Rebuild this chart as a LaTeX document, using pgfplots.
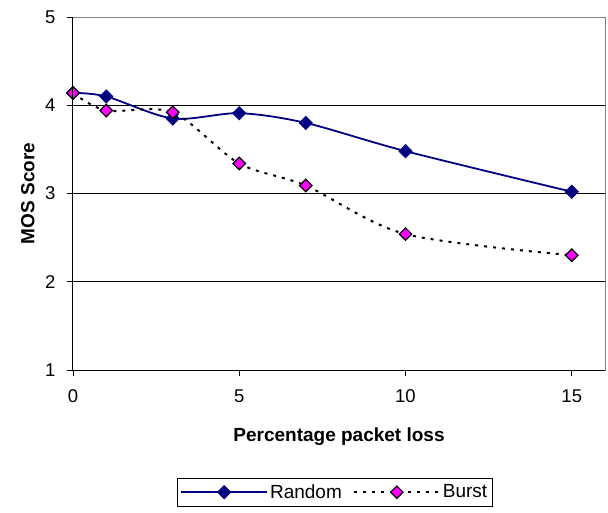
\documentclass[border=0pt]{standalone}
\usepackage{pgfplots}
\pgfplotsset{compat=1.18}
\usepackage{fontspec}
\setmainfont{Liberation Sans}
\definecolor{navyblue}{RGB}{0,0,128}
\definecolor{mag}{RGB}{255,0,255}
\begin{document}
\begin{tikzpicture}[x=1pt,y=1pt]
\useasboundingbox (-73,-142) rectangle (535,370);
\begin{axis}[
  at={(0,0)}, anchor=south west,
  scale only axis, width=532pt, height=353pt,
  xmin=0, xmax=16, ymin=1, ymax=5,
  xtick={0,5,10,15}, ytick={1,2,3,4,5},
  tick align=outside, xtick pos=bottom, ytick pos=left,
  major tick length=6pt,
  tick style={black, line width=0.8pt},
  ymajorgrids, grid style={black, line width=0.8pt},
  axis line style={draw=gray, line width=1pt},
  ticklabel style={font=\fontsize{18.5}{20}\selectfont},
  xticklabel style={yshift=-10pt},
  yticklabel style={xshift=-8pt},
  /pgf/number format/assume math mode=true,
  xlabel={Percentage packet loss}, ylabel={MOS Score},
  label style={font=\bfseries\fontsize{19}{22}\selectfont},
  xlabel style={at={(axis description cs:0.5,-0.19)}, anchor=center},
  ylabel style={at={(axis description cs:-0.085,0.5)}, anchor=center, rotate=0},
  clip=false,
  legend style={at={(axis description cs:0.492,-0.307)}, anchor=north, legend columns=2, draw=black,
    font=\fontsize{19}{21}\selectfont, /tikz/every even column/.append style={column sep=9pt},
    inner ysep=4pt},
  legend cell align=left,
  legend image code/.code={\draw[mark repeat=2,mark phase=2] plot coordinates {(0pt,0pt)(43pt,0pt)(86pt,0pt)};},
  after end axis/.code={\draw[black, line width=1pt] (rel axis cs:0,1) -- (rel axis cs:0,0) -- (rel axis cs:1,0);},
]
\addplot[navyblue, line width=1.8pt, smooth, tension=0.5, mark=square*, mark size=4.8pt,
  mark options={rotate=45, solid, fill=navyblue, draw=navyblue, line width=0.5pt}]
  coordinates {(0,4.14)(1,4.10)(3,3.85)(5,3.91)(7,3.80)(10,3.48)(15,3.02)};
\addlegendentry{Random}
\addplot[black, line width=2pt, dash pattern=on 3pt off 6pt, smooth, tension=0.5, mark=square*, mark size=4.4pt,
  mark options={rotate=45, solid, fill=mag, draw=black, line width=1.2pt}]
  coordinates {(0,4.14)(1,3.94)(3,3.92)(5,3.34)(7,3.09)(10,2.54)(15,2.30)};
\addlegendentry{Burst}
\end{axis}
\end{tikzpicture}
\end{document}
